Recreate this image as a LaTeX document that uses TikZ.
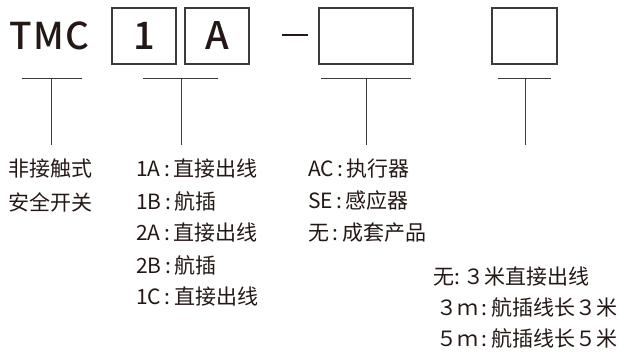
\documentclass[tikz,border=0pt]{standalone}
\usepackage{fontspec}
\setmainfont{Noto Sans CJK SC}
\newfontfamily\codefont{Noto Sans CJK SC}[UprightFont=* Medium]
\usetikzlibrary{positioning}
\definecolor{inkdark}{HTML}{231815}
\definecolor{linegray}{HTML}{3E3A39}

\begin{document}
\begin{tikzpicture}[x=1pt, y=-1pt,
  codebox/.style={draw=linegray, line width=1.2pt, minimum height=56pt, inner sep=0pt,
                  font=\fontsize{38}{40}\selectfont\codefont, text=inkdark},
  note/.style={anchor=west, inner sep=0pt, font=\fontsize{21}{24}\selectfont, text=inkdark},
  bar/.style={draw=linegray, line width=1pt}]
\useasboundingbox (0,0) rectangle (625,352);
% model code
\node[inner sep=0pt, font=\fontsize{37}{40}\selectfont\codefont, text=inkdark] (series) at (49.5,36) {T\kern1ptM\kern1ptC};
\node[codebox, minimum width=64pt] (digit) at (144,36) {1};
\node[codebox, minimum width=64pt] (letter) at (217,36) {A};
\node[fill=inkdark, minimum width=26pt, minimum height=1.8pt, inner sep=0pt] (dash) at (295,35) {};
\node[codebox, minimum width=94pt] (kind) at (366,36) {};
\node[codebox, minimum width=65pt] (cable) at (524.5,36) {};
% bars under the code
\draw[bar] (22,79) -- (82,79);
\draw[bar] (143,79) -- (218,79);
\draw[bar] (321,79) -- (411,79);
\draw[bar] (498,79) -- (551,79);
\coordinate (s1) at (51,79);  \coordinate (e1) at (51,145);
\coordinate (s2) at (181,79); \coordinate (e2) at (181,145);
\coordinate (s3) at (366,79); \coordinate (e3) at (366,145);
\coordinate (s4) at (525,79); \coordinate (e4) at (525,145);
\draw[bar] (s1) -- (e1);
\draw[bar] (s2) -- (e2);
\draw[bar] (s3) -- (e3);
\draw[bar] (s4) -- (e4);
% explanations
\node[note] (seriesA) at (8,169) {非接触式};
\node[note] (seriesB) at (8,202) {安全开关};
\node[note] (opt1A) at (136,169) {1A\,:\,直接出线};
\node[note] (opt1B) at (136,201) {1B\,:\,航插};
\node[note] (opt2A) at (136,233) {2A\,:\,直接出线};
\node[note] (opt2B) at (136,265) {2B\,:\,航插};
\node[note] (opt1C) at (136,297) {1C\,:\,直接出线};
\node[note] (kindAC) at (308,169) {AC\,:\,执行器};
\node[note] (kindSE) at (308,201) {SE\,:\,感应器};
\node[note] (kindNo) at (308,233) {无\,:\,成套产品};
\node[note] (cableNo) at (433,277) {无:\,３米直接出线};
\node[note] (cable3) at (436,307) {３ｍ\,:\,航插线长３米};
\node[note] (cable5) at (436,338) {５ｍ\,:\,航插线长５米};
\end{tikzpicture}
\end{document}
